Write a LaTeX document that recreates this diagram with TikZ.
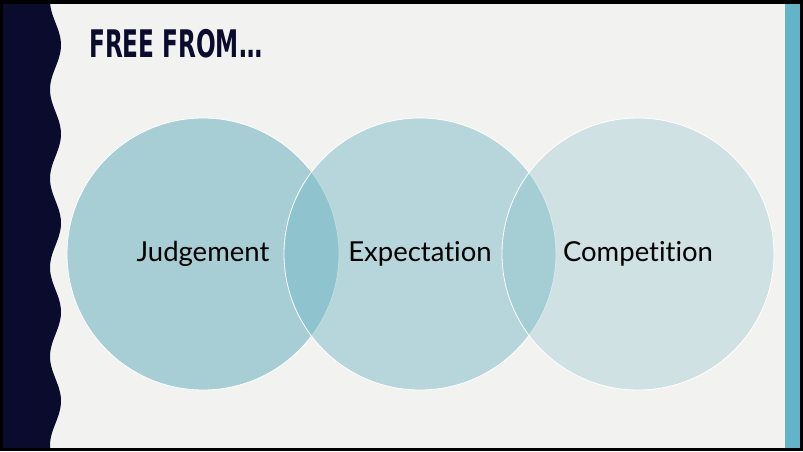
\documentclass[tikz,border=0pt]{standalone}
\usepackage{fontspec}
\usepackage{graphicx}
\setmainfont{Lato}[Ligatures={NoCommon}]
\newfontfamily\titlefont{DejaVu Sans}

\definecolor{slidebg}{RGB}{242,242,240}
\definecolor{navy}{RGB}{11,11,46}
\definecolor{tealbar}{RGB}{98,180,200}
\definecolor{circfill}{RGB}{118,183,196}

\begin{document}
\begin{tikzpicture}[x=1pt,y=-1pt]

      % one style for the three circles, only the opacity changes
      \tikzstyle{ring}=[circle,minimum size=272pt,inner sep=0pt,draw=white,line width=0.8pt,fill=circfill,text=black,text opacity=1,font=\fontsize{27.5}{27.5}\selectfont]

      \def\wx{55.5}     % middle of the wavy edge
      \def\wa{5.5}      % its amplitude
      \def\wp{89}       % its period

      \useasboundingbox (0,0) rectangle (803,451);
      \fill [black] (0,0) rectangle (803,451);
      \fill [slidebg] (3,4) rectangle (800,448);
      \fill [tealbar] (785,4) rectangle (800,448);

      % dark band on the left with the wavy edge
      \fill [navy] (3,4) -- plot[variable=\t,domain=4:448,samples=200] ({\wx+\wa*sin((\t-22.75)/\wp*360)},\t) -- (3,448) -- cycle;

      \node [anchor=base west,inner sep=0pt,text=navy] (title) at (89,57) {\scalebox{0.61}[1]{\titlefont\fontsize{38}{38}\selectfont\bfseries FREE FROM…}};

      \node [ring,fill opacity=0.6]  (judge) at (203,254) {Judgement};
      \node [ring,fill opacity=0.47] (expect) at (420,254) {Expectation};
      \node [ring,fill opacity=0.28] (compete) at (638,254) {Competition};

   \end{tikzpicture}
\end{document}
